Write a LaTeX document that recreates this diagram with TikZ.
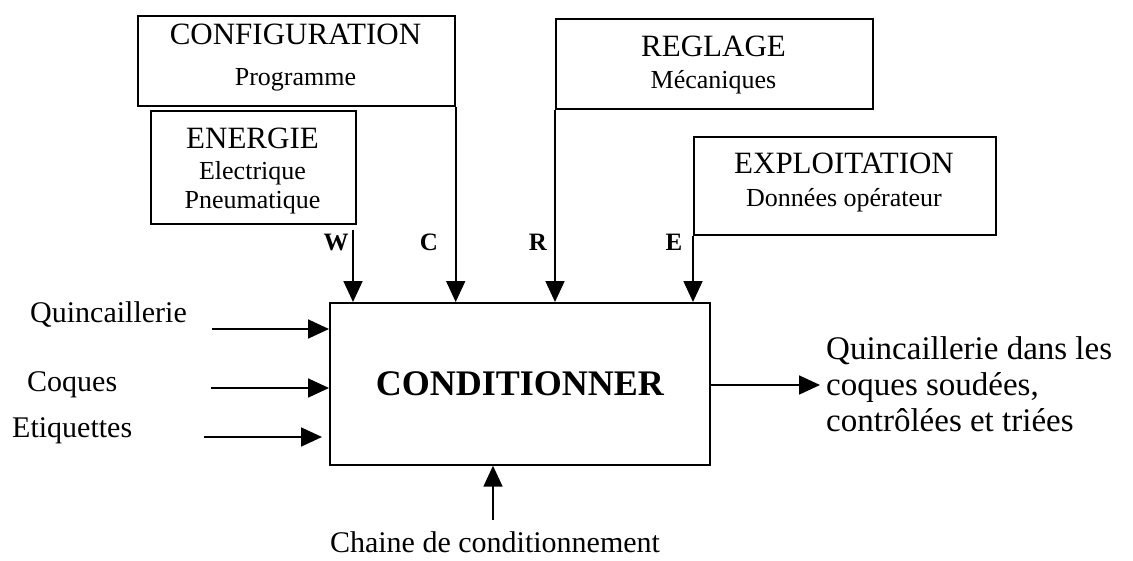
\documentclass[tikz,border=0pt]{standalone}
\usepackage{fontspec}
\setmainfont{Liberation Serif}
\usepackage{tikz}
\usetikzlibrary{arrows.meta}

\newcommand{\titre}{\fontsize{31}{35}\selectfont}
\newcommand{\sous}{\fontsize{26}{30}\selectfont}
\newcommand{\flux}{\fontsize{30}{36}\selectfont}
\newcommand{\sortie}{\fontsize{33}{36}\selectfont}
\newcommand{\lettre}{\fontsize{25}{30}\selectfont\bfseries}
\newcommand{\gros}{\fontsize{36}{40}\selectfont\bfseries}

\begin{document}
\begin{tikzpicture}[x=1pt,y=-1pt,
  bloc/.style={draw, line width=1.7pt, inner sep=0pt, anchor=north west},
  fleche/.style={line width=1.8pt, -{Triangle[length=21pt,width=19pt]}},
  txt/.style={anchor=base, inner sep=0pt}]
\useasboundingbox (0,0) rectangle (1133,560);

\node [bloc, minimum width=317pt, minimum height=90pt] (config) at (137,15) {};
\node [txt, font=\titre] (configT) at (295.5,44) {CONFIGURATION};
\node [txt, font=\sous] (configS) at (295.5,85) {Programme};

\node [bloc, minimum width=205pt, minimum height=113pt] (energie) at (150,110) {};
\node [txt, font=\titre] (energieT) at (252.5,148) {ENERGIE};
\node [txt, font=\sous] (energieS) at (252.5,179) {Electrique};
\node [txt, font=\sous] (energieP) at (252.5,208) {Pneumatique};

\node [bloc, minimum width=317pt, minimum height=90pt] (reglage) at (555,18) {};
\node [txt, font=\titre] (reglageT) at (713.5,56) {REGLAGE};
\node [txt, font=\sous] (reglageS) at (713.5,88) {Mécaniques};

\node [bloc, minimum width=302pt, minimum height=98pt] (exploit) at (693,136) {};
\node [txt, font=\titre] (exploitT) at (844,173) {EXPLOITATION};
\node [txt, font=\sous] (exploitS) at (844,206) {Données opérateur};

\node [bloc, minimum width=380pt, minimum height=162pt, font=\gros] (main) at (329,302) {CONDITIONNER};

\node [txt, font=\lettre] (lw) at (336,250) {W};
\node [txt, font=\lettre] (lc) at (429,250) {C};
\node [txt, font=\lettre] (lr) at (538,250) {R};
\node [txt, font=\lettre] (le) at (674,250) {E};

\coordinate (wA) at (353,230);
\draw [fleche] (wA) -- (wA |- main.north);
\draw [fleche] (config.south east) -- (config.south east |- main.north);
\draw [fleche] (reglage.south west) -- (reglage.south west |- main.north);
\draw [fleche] (exploit.south west) -- (exploit.south west |- main.north);

\node [txt, anchor=base west, font=\flux] (quinc) at (30,322) {Quincaillerie};
\node [txt, anchor=base west, font=\flux] (coques) at (27,391) {Coques};
\node [txt, anchor=base west, font=\flux] (etiq) at (12,437) {Etiquettes};
\coordinate (q0) at (212,329);
\coordinate (c0) at (211,388);
\coordinate (e0) at (204,437);
\coordinate (e1) at (322,437);
\draw [fleche] (q0) -- (q0 -| main.west);
\draw [fleche] (c0) -- (c0 -| main.west);
\draw [fleche] (e0) -- (e1);

\coordinate (sortie) at (820,385);
\draw [fleche] (sortie -| main.east) -- (sortie);
\node [txt, anchor=base west, font=\sortie, align=left] (produit) at (826,431)
  {Quincaillerie dans les\\coques soudées,\\contrôlées et triées};

\coordinate (ch0) at (493,520);
\draw [fleche] (ch0) -- (ch0 |- main.south);
\node [txt, font=\flux] (chaine) at (495,552) {Chaine de conditionnement};

\end{tikzpicture}
\end{document}
